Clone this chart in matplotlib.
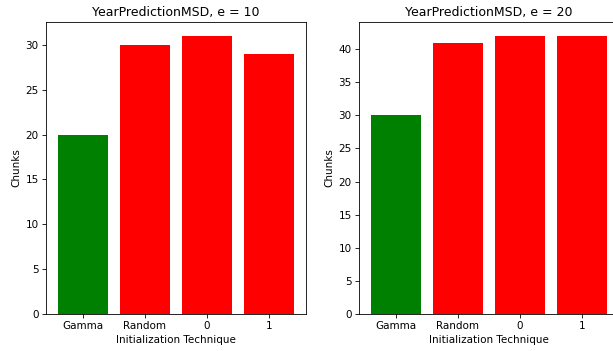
import matplotlib
matplotlib.use("Agg")
import matplotlib.pyplot as plt

categories = ["Gamma", "Random", "0", "1"]
chunks_e10 = [20, 30, 31, 29]
chunks_e20 = [30, 41, 42, 42]
bar_colors = ["green", "red", "red", "red"]

dpi = 75
fig = plt.figure(figsize=(613 / dpi, 351 / dpi), dpi=dpi)
W, H = 613, 351
ax1 = fig.add_axes([46 / W, (H - 314) / H, 260 / W, 292 / H])
ax2 = fig.add_axes([359 / W, (H - 314) / H, 260 / W, 292 / H])

for ax, vals, e in [(ax1, chunks_e10, 10), (ax2, chunks_e20, 20)]:
    ax.bar(categories, vals, color=bar_colors)
    ax.set_title(f"YearPredictionMSD, e = {e}")
    ax.set_xlabel("Initialization Technique")
    ax.set_ylabel("Chunks")

fig.savefig("out.png", dpi=dpi)
